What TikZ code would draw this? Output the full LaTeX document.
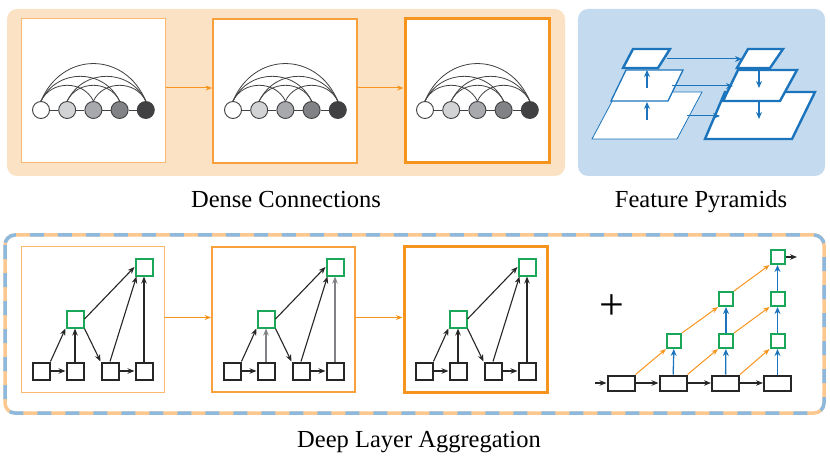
\documentclass[tikz,border=0pt]{standalone}
\usepackage{fontspec}
\setmainfont{Liberation Serif}
\usetikzlibrary{arrows.meta}

\definecolor{panelorange}{HTML}{FCE2C4}
\definecolor{panelblue}{HTML}{C4DAEE}
\definecolor{lineorange}{HTML}{F7941D}
\definecolor{paleorange}{HTML}{FBB86E}
\definecolor{midorange}{HTML}{F8A03C}
\definecolor{fpnblue}{HTML}{1C75BC}
\definecolor{aggrgreen}{HTML}{1BA75A}
\definecolor{dashorange}{HTML}{FDC890}
\definecolor{dashblue}{HTML}{8DB9DE}
\definecolor{inkgray}{HTML}{414042}
\definecolor{grayA}{HTML}{D1D3D4}
\definecolor{grayB}{HTML}{A7A9AC}
\definecolor{grayC}{HTML}{808285}
\definecolor{grayD}{HTML}{414042}

\tikzset{
  framea/.style={rectangle, draw=paleorange, line width=1pt, fill=white, minimum size=144pt, inner sep=0pt},
  frameb/.style={rectangle, draw=midorange, line width=1.8pt, fill=white, minimum size=144pt, inner sep=0pt},
  framec/.style={rectangle, draw=lineorange, line width=3pt, fill=white, minimum size=144pt, inner sep=0pt},
  dense/.style={circle, draw=inkgray, line width=0.9pt, minimum size=17pt, inner sep=0pt},
  unit/.style={rectangle, draw=black!85, line width=2pt, fill=white, minimum size=17pt, inner sep=0pt},
  agg/.style={unit, draw=aggrgreen},
  wide/.style={unit, minimum width=27pt, minimum height=15pt},
  small/.style={agg, minimum size=14pt},
  tip/.style={-{Stealth[length=7pt,width=5.5pt]}, line width=1.1pt, draw=black!85},
  otip/.style={-{Stealth[length=6.5pt,width=5pt]}, line width=1pt, draw=lineorange},
  btip/.style={-{Stealth[length=7pt,width=6pt]}, line width=1.3pt, draw=fpnblue},
  caption/.style={anchor=base, font=\fontsize{24.5}{29}\selectfont},
}

\begin{document}
\begin{tikzpicture}[x=1pt, y=-1pt]
    \useasboundingbox (0,0) rectangle (830,457);

    % Panels
    \fill[panelorange, rounded corners=10pt] (7,9) rectangle (565,176);
    \fill[panelblue, rounded corners=10pt] (578,9) rectangle (825,176);
    \draw[dashorange, line width=3.5pt, rounded corners=10pt] (5,235) rectangle (824,413);
    \draw[dashblue, line width=3.5pt, rounded corners=10pt, dash pattern=on 14pt off 14pt] (5,235) rectangle (824,413);

    % Dense connections
    \foreach \k/\ox/\frame in {1/0/framea, 2/192/frameb, 3/384/framec} {
        \node[\frame] (box\k) at (93+\ox,91) {};
        \foreach \i/\shade in {1/white, 2/grayA, 3/grayB, 4/grayC, 5/grayD}
            \node[dense, fill=\shade] (c\k\i) at (14.8+\ox+26.2*\i,110) {};
        \foreach \i in {1,...,4}
            \draw[inkgray, line width=0.9pt] (c\k\i) -- (c\k\the\numexpr\i+1\relax);
        \foreach \i/\j/\dx/\h in {1/3/10/21, 2/4/10/21, 3/5/10/21, 1/4/16/33, 2/5/16/33, 1/5/21/50}
            \draw[inkgray, line width=0.8pt] (c\k\i.north) .. controls +(\dx,-\h) and +(-\dx,-\h) .. (c\k\j.north);
    }
    \draw[otip] ([yshift=3pt]box1.east) -- ([yshift=3pt]box2.west);
    \draw[otip] ([yshift=3pt]box2.east) -- ([yshift=3pt]box3.west);

    % Feature pyramids
    \filldraw[fill=white, draw=fpnblue, line width=0.8pt] (592,139) -- (617,92) -- (702,92) -- (677,139) -- cycle;
    \filldraw[fill=white, draw=fpnblue, line width=1.3pt] (611,101) -- (626,70) -- (683,70) -- (668,101) -- cycle;
    \filldraw[fill=white, draw=fpnblue, line width=2.4pt, line join=miter] (623,68) -- (633,49) -- (670,49) -- (658,68) -- cycle;
    \filldraw[fill=white, draw=fpnblue, line width=2.4pt, line join=miter] (705,139) -- (725,92) -- (815,92) -- (792,139) -- cycle;
    \filldraw[fill=white, draw=fpnblue, line width=2.4pt, line join=miter] (723,101) -- (738,70) -- (797,70) -- (780,101) -- cycle;
    \filldraw[fill=white, draw=fpnblue, line width=2.4pt, line join=miter] (737,68) -- (748,49) -- (783,49) -- (770,68) -- cycle;
    \coordinate (lt) at (667,59);  \coordinate (rt) at (742,59);
    \coordinate (lm) at (672,86);  \coordinate (rm) at (733,86);
    \coordinate (lb) at (687,116); \coordinate (rb) at (720,116);
    \coordinate (up1) at (647,120); \coordinate (up2) at (647,102);
    \coordinate (up3) at (647,88);  \coordinate (up4) at (647,70);
    \coordinate (dn1) at (759,71);  \coordinate (dn2) at (759,88);
    \coordinate (dn3) at (759,102); \coordinate (dn4) at (759,119);
    \draw[btip, line width=1pt] (lt) -- (rt);
    \draw[btip, line width=1pt] (lm) -- (rm);
    \draw[btip, line width=1pt] (lb) -- (rb);
    \draw[btip] (up1) -- (up2);
    \draw[btip] (up3) -- (up4);
    \draw[btip] (dn1) -- (dn2);
    \draw[btip] (dn3) -- (dn4);

    % Deep layer aggregation
    \foreach \k/\ox/\frame/\vcol in {1/0/framea/black!85, 2/191/frameb/grayC, 3/383/framec/black!85} {
        \node[\frame, minimum width=143pt, minimum height=145pt] (agg\k) at (92.5+\ox,319.5) {};
        \node[unit] (u\k1) at (41+\ox,371) {};
        \node[unit] (u\k2) at (75+\ox,371) {};
        \node[unit] (u\k3) at (110+\ox,371) {};
        \node[unit] (u\k4) at (144+\ox,371) {};
        \node[agg] (g\k1) at (75+\ox,319) {};
        \node[agg] (g\k2) at (144+\ox,267) {};
        \draw[tip] (u\k1) -- (u\k2);
        \draw[tip] (u\k3) -- (u\k4);
        \draw[tip] (u\k1.north east) -- (g\k1.south west);
        \draw[tip, draw=\vcol] (u\k2) -- (g\k1);
        \draw[tip] (g\k1.south east) -- (u\k3.north west);
        \draw[tip] (g\k1.east) -- (g\k2.west);
        \draw[tip] (u\k3.north) -- ([xshift=2pt]g\k2.south west);
        \draw[tip, draw=\vcol] (u\k4) -- (g\k2);
    }
    \draw[otip] ([yshift=2pt]agg1.east) -- ([yshift=2pt]agg2.west);
    \draw[otip] ([yshift=2pt]agg2.east) -- ([yshift=2pt]agg3.west);

    \node (plus) at (612,307) {\fontsize{44}{44}\selectfont +};

    % Iterative and hierarchical aggregation
    \node[wide] (r1) at (621,383) {};
    \node[wide] (r2) at (673,383) {};
    \node[wide] (r3) at (725.5,383) {};
    \node[wide] (r4) at (777.5,383) {};
    \node[small] (s11) at (674,341) {};
    \node[small] (s21) at (726,341) {};
    \node[small] (s22) at (726,299) {};
    \node[small] (s31) at (777.5,341) {};
    \node[small] (s32) at (777.5,299) {};
    \node[small] (s33) at (777.5,257) {};
    \coordinate (inlet) at (595,383);
    \coordinate (outlet) at (797,257);
    \draw[tip] (inlet) -- (r1);
    \draw[tip] (r1) -- (r2);
    \draw[tip] (r2) -- (r3);
    \draw[tip] (r3) -- (r4);
    \draw[tip] (s33) -- (outlet);
    \draw[otip] (r1.north east) -- (s11.south west);
    \draw[otip] (r2.north east) -- (s21.south west);
    \draw[otip] (r3.north east) -- (s31.south west);
    \draw[otip] (s11.north east) -- (s22.south west);
    \draw[otip] (s21.north east) -- (s32.south west);
    \draw[otip] (s22.north east) -- (s33.south west);
    \draw[btip] (r2) -- (s11);
    \draw[btip] (r3) -- (s21);
    \draw[btip] (s21) -- (s22);
    \draw[btip] (r4) -- (s31);
    \draw[btip] (s31) -- (s32);
    \draw[btip] (s32) -- (s33);

    % Labels
    \node[caption] (capdense) at (286,208) {Dense Connections};
    \node[caption] (cappyramid) at (701,208) {Feature Pyramids};
    \node[caption] (capagg) at (419,447) {Deep Layer Aggregation};
\end{tikzpicture}
\end{document}
